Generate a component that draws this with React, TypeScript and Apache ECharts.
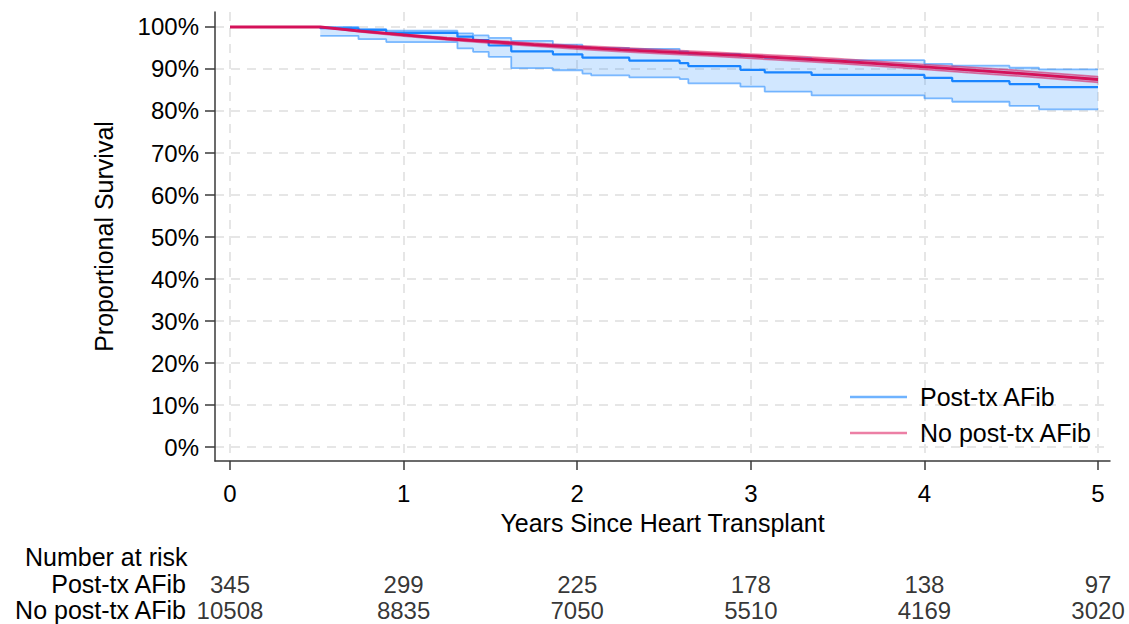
import React, { useEffect, useRef } from "react";
import * as echarts from "echarts";

// ---- axis ticks ----
const xTicks = [0, 1, 2, 3, 4, 5];
const yTicks = [0, 0.1, 0.2, 0.3, 0.4, 0.5, 0.6, 0.7, 0.8, 0.9, 1.0];

// ---- group names ----
const groupNames = ["Post-tx AFib", "No post-tx AFib"];

// ---- Post-tx AFib KM estimate (step) with 95% CI ----
const afibTimes = [0, 0.52, 0.74, 0.9, 1.31, 1.4, 1.49, 1.62, 1.86, 2.03, 2.08, 2.3, 2.59, 2.64, 2.94, 3.08, 3.35, 4.0, 4.16, 4.49, 4.66, 5.0];
const afibSurv = [1, 0.997, 0.993, 0.986, 0.977, 0.969, 0.956, 0.942, 0.935, 0.927, 0.927, 0.92, 0.914, 0.907, 0.898, 0.892, 0.886, 0.879, 0.871, 0.864, 0.857, 0.857];
const afibLower = [null, 0.979, 0.971, 0.964, 0.949, 0.941, 0.929, 0.902, 0.897, 0.889, 0.885, 0.88, 0.876, 0.866, 0.858, 0.846, 0.837, 0.83, 0.822, 0.812, 0.804, 0.804];
const afibUpper = [null, 1.0, 0.995, 0.991, 0.985, 0.98, 0.974, 0.967, 0.958, 0.952, 0.95, 0.948, 0.942, 0.936, 0.93, 0.926, 0.921, 0.912, 0.908, 0.903, 0.899, 0.899];

// ---- No post-tx AFib KM estimate with 95% CI ----
const noAfibTimes = [0, 0.52, 0.75, 1.0, 1.25, 1.5, 1.75, 2.0, 2.25, 2.5, 2.75, 3.0, 3.25, 3.5, 3.75, 4.0, 4.25, 4.5, 4.75, 5.0];
const noAfibSurv = [1, 1, 0.99, 0.981, 0.972, 0.965, 0.958, 0.952, 0.946, 0.941, 0.936, 0.931, 0.925, 0.919, 0.912, 0.905, 0.898, 0.891, 0.883, 0.875];
const noAfibLower = [1, 1, 0.988, 0.978, 0.969, 0.961, 0.954, 0.947, 0.941, 0.936, 0.931, 0.925, 0.919, 0.913, 0.906, 0.899, 0.891, 0.884, 0.876, 0.868];
const noAfibUpper = [1, 1, 0.992, 0.983, 0.975, 0.968, 0.962, 0.956, 0.951, 0.946, 0.941, 0.936, 0.931, 0.925, 0.918, 0.911, 0.905, 0.898, 0.89, 0.882];

// ---- number at risk ----
const riskTimes = [0, 1, 2, 3, 4, 5];
const riskAfib = [345, 299, 225, 178, 138, 97];
const riskNoAfib = [10508, 8835, 7050, 5510, 4169, 3020];

const FONT = '"Liberation Sans", Arial, Helvetica, sans-serif';
const X_MIN = -0.0864;
const X_MAX = 5.069;
const Y_MIN = -0.0333;
const Y_MAX = 1.0357;

function bandRenderer(times: number[], lower: (number | null)[], upper: (number | null)[], step: boolean, fill: string) {
  return (_params: any, api: any) => {
    const idx: number[] = [];
    for (let i = 0; i < times.length; i++) if (lower[i] != null && upper[i] != null) idx.push(i);
    const pts: number[][] = [];
    for (let k = 0; k < idx.length; k++) {
      const i = idx[k];
      pts.push(api.coord([times[i], upper[i]]));
      if (step && k < idx.length - 1) pts.push(api.coord([times[idx[k + 1]], upper[i]]));
    }
    for (let k = idx.length - 1; k >= 0; k--) {
      const i = idx[k];
      if (step && k < idx.length - 1) pts.push(api.coord([times[idx[k + 1]], lower[i]]));
      pts.push(api.coord([times[i], lower[i]]));
    }
    return { type: "polygon", shape: { points: pts }, style: { fill }, silent: true };
  };
}

const zip = (t: number[], v: (number | null)[]) => t.map((x, i) => [x, v[i]]);

export default function App() {
  const ref = useRef<HTMLDivElement>(null);
  useEffect(() => {
    if (!ref.current) return;
    const chart = echarts.init(ref.current, null, { renderer: "svg" });
    const axisColor = "#3a3a3a";
    const gridLine = { show: true, lineStyle: { color: "#e6e6e6", width: 2, type: [9, 7] as any } };
    const riskData: any[] = [];
    riskTimes.forEach((t, i) => {
      riskData.push([t, groupNames[0], riskAfib[i]]);
      riskData.push([t, groupNames[1], riskNoAfib[i]]);
    });
    chart.setOption({
      animation: false,
      backgroundColor: "#ffffff",
      textStyle: { fontFamily: FONT },
      title: {
        text: "Number at risk",
        left: 25,
        top: 544,
        padding: 0,
        textStyle: { fontSize: 25, fontWeight: "normal", color: "#000", fontFamily: FONT },
      },
      legend: {
        orient: "vertical",
        left: 850,
        top: 379,
        padding: 0,
        itemWidth: 57,
        itemHeight: 2.5,
        itemGap: 0,
        icon: "rect",
        selectedMode: false,
        textStyle: { fontSize: 25, lineHeight: 36, color: "#000", fontFamily: FONT, padding: [0, 0, 0, 8] },
        data: [
          { name: groupNames[0], itemStyle: { color: "#6fb3ff" } },
          { name: groupNames[1], itemStyle: { color: "#ec7fa5" } },
        ],
      },
      grid: [
        { left: 215, top: 12, width: 895, height: 449 },
        { left: 215, top: 571, width: 895, height: 52 },
      ],
      xAxis: [
        {
          type: "value",
          gridIndex: 0,
          min: X_MIN,
          max: X_MAX,
          name: "Years Since Heart Transplant",
          nameLocation: "middle",
          nameGap: 49,
          nameTextStyle: { fontSize: 25, color: "#000", fontFamily: FONT },
          axisLine: { onZero: false, lineStyle: { color: axisColor, width: 1.5 } },
          axisTick: { customValues: xTicks, length: 9, lineStyle: { color: axisColor, width: 1.5 } },
          axisLabel: {
            customValues: xTicks,
            margin: 20,
            fontSize: 24,
            color: "#000",
            fontFamily: FONT,
            formatter: (v: number) => String(Math.round(v)),
          },
          splitLine: gridLine,
        },
        { type: "value", gridIndex: 1, min: X_MIN, max: X_MAX, show: false },
      ],
      yAxis: [
        {
          type: "value",
          gridIndex: 0,
          min: Y_MIN,
          max: Y_MAX,
          name: "Proportional Survival",
          nameLocation: "middle",
          nameGap: 99,
          nameTextStyle: { fontSize: 25, color: "#000", fontFamily: FONT },
          axisLine: { onZero: false, lineStyle: { color: axisColor, width: 1.5 } },
          axisTick: { customValues: yTicks, length: 10, lineStyle: { color: axisColor, width: 1.5 } },
          axisLabel: {
            customValues: yTicks,
            margin: 16,
            fontSize: 24,
            color: "#000",
            fontFamily: FONT,
            formatter: (v: number) => Math.round(v * 100) + "%",
          },
          splitLine: gridLine,
        },
        {
          type: "category",
          gridIndex: 1,
          data: groupNames,
          inverse: true,
          axisLine: { show: false },
          axisTick: { show: false },
          splitLine: { show: false },
          axisLabel: { interval: 0, hideOverlap: false, margin: 29, fontSize: 25, color: "#000", fontFamily: FONT },
        },
      ],
      series: [
        {
          name: "afibBand",
          type: "custom",
          xAxisIndex: 0,
          yAxisIndex: 0,
          data: [[0, 1]],
          clip: true,
          renderItem: bandRenderer(afibTimes, afibLower, afibUpper, true, "rgba(26,133,255,0.2)"),
        },
        {
          name: "afibLower",
          type: "line",
          step: "end",
          symbol: "none",
          data: zip(afibTimes, afibLower),
          lineStyle: { color: "rgba(26,133,255,0.55)", width: 1.8 },
          silent: true,
        },
        {
          name: "afibUpper",
          type: "line",
          step: "end",
          symbol: "none",
          data: zip(afibTimes, afibUpper),
          lineStyle: { color: "rgba(26,133,255,0.55)", width: 1.8 },
          silent: true,
        },
        {
          name: groupNames[0],
          type: "line",
          step: "end",
          symbol: "none",
          data: zip(afibTimes, afibSurv),
          itemStyle: { color: "#1a85ff" },
          lineStyle: { color: "#1a85ff", width: 2.2 },
          silent: true,
        },
        {
          name: "noAfibBand",
          type: "custom",
          xAxisIndex: 0,
          yAxisIndex: 0,
          data: [[0, 1]],
          clip: true,
          renderItem: bandRenderer(noAfibTimes, noAfibLower, noAfibUpper, false, "rgba(212,17,89,0.35)"),
        },
        {
          name: "noAfibLower",
          type: "line",
          symbol: "none",
          data: zip(noAfibTimes, noAfibLower),
          lineStyle: { color: "rgba(212,17,89,0.5)", width: 1.5 },
          silent: true,
        },
        {
          name: "noAfibUpper",
          type: "line",
          symbol: "none",
          data: zip(noAfibTimes, noAfibUpper),
          lineStyle: { color: "rgba(212,17,89,0.5)", width: 1.5 },
          silent: true,
        },
        {
          name: groupNames[1],
          type: "line",
          symbol: "none",
          data: zip(noAfibTimes, noAfibSurv),
          itemStyle: { color: "#d41159" },
          lineStyle: { color: "#d41159", width: 2.8 },
          silent: true,
        },
        {
          name: "risk",
          type: "scatter",
          xAxisIndex: 1,
          yAxisIndex: 1,
          symbolSize: 1,
          itemStyle: { color: "rgba(0,0,0,0)" },
          data: riskData,
          silent: true,
          label: {
            show: true,
            position: "inside",
            fontSize: 24,
            color: "#000",
            fontFamily: FONT,
            formatter: (p: any) => String(p.value[2]),
          },
        },
      ],
    });
    return () => chart.dispose();
  }, []);
  return (
    <div
      ref={ref}
      style={{ position: "absolute", left: 0, top: 0, width: 1129, height: 624, background: "#fff" }}
    />
  );
}
